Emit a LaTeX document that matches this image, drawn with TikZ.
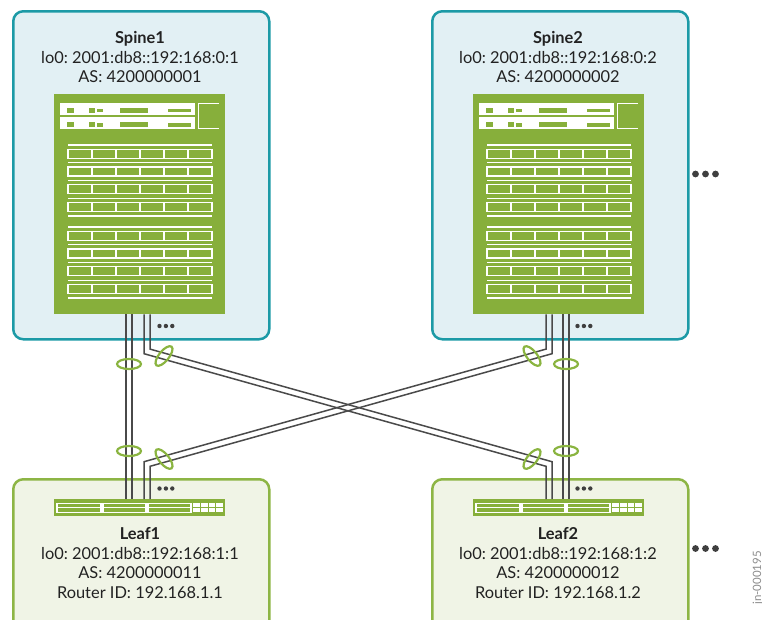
\documentclass[tikz,border=0pt]{standalone}
\usepackage{fontspec}
\setmainfont{Lato}
\usetikzlibrary{calc}
\definecolor{SpineTeal}{HTML}{1C9AA6}
\definecolor{SpineFill}{HTML}{E2F0F4}
\definecolor{LeafEdge}{HTML}{8DB545}
\definecolor{LeafFill}{HTML}{F0F4E6}
\definecolor{SwGreen}{HTML}{87AF3B}
\definecolor{LagGreen}{HTML}{8AB440}
\definecolor{LinkGrey}{HTML}{4A4A4A}
\definecolor{DotGrey}{HTML}{3F3F3F}
\definecolor{TextDark}{HTML}{222222}
\definecolor{IdGrey}{HTML}{8C8C8C}
\frenchspacing

\begin{document}
\begin{tikzpicture}[x=1pt, y=-1pt,
  spinebox/.style={draw=SpineTeal, fill=SpineFill, line width=2.5pt, rounded corners=10pt, anchor=north west, minimum width=256pt, minimum height=328pt, inner sep=0pt},
  leafbox/.style={draw=LeafEdge, fill=LeafFill, line width=2.5pt, rounded corners=10pt, anchor=north west, minimum width=256pt, minimum height=160pt, inner sep=0pt},
  chassis/.style={fill=SwGreen, anchor=north west, minimum width=171pt, inner sep=0pt},
  lbl/.style={align=center, text=TextDark, font=\fontsize{16.4}{19.8}\selectfont, inner sep=0pt},
  link/.style={draw=LinkGrey, line width=1.5pt},
  lag/.style={draw=LagGreen, line width=2.2pt},
  port/.style={draw=white, line width=1.2pt}
]
  \clip (0,0) rectangle (762,619);

  % rack boxes
  \node[spinebox] (spine1) at (12,10) {};
  \node[spinebox] (spine2) at (431,10) {};
  \node[leafbox] (leaf1) at (12,478) {};
  \node[leafbox] (leaf2) at (431,478) {};

  % switches
  \node[chassis, minimum height=220pt] (sp1sw) at (54,94) {};
  \node[chassis, minimum height=220pt] (sp2sw) at (473,94) {};
  \node[chassis, minimum height=17pt] (lf1sw) at (54,499) {};
  \node[chassis, minimum height=17pt] (lf2sw) at (473,499) {};

  % straight uplinks
  \foreach \dx in {72,78}
    \draw[link] ($(sp1sw.south west)+(\dx,0)$) -- ($(lf1sw.north west)+(\dx,0)$);
  \foreach \dx in {90,96}
    \draw[link] ($(sp2sw.south west)+(\dx,0)$) -- ($(lf2sw.north west)+(\dx,0)$);

  % crossed uplinks
  \draw[link] ($(sp1sw.south west)+(90,0)$) -- ++(0,39.3) -- ($(lf2sw.north west)+(73,-32.7)$) -- ($(lf2sw.north west)+(73,0)$);
  \draw[link] ($(sp1sw.south west)+(96,0)$) -- ++(0,34.7) -- ($(lf2sw.north west)+(79,-37.3)$) -- ($(lf2sw.north west)+(79,0)$);
  \draw[link] ($(sp2sw.south west)+(73,0)$) -- ++(0,34.7) -- ($(lf1sw.north west)+(90,-37.3)$) -- ($(lf1sw.north west)+(90,0)$);
  \draw[link] ($(sp2sw.south west)+(79,0)$) -- ++(0,39.3) -- ($(lf1sw.north west)+(96,-32.7)$) -- ($(lf1sw.north west)+(96,0)$);

  % LAG rings
  \foreach \x/\y in {129/364, 129/451, 566/364, 566/451}
    \draw[lag] (\x,\y) ellipse [x radius=12, y radius=5];
  \foreach \x/\y/\a in {164/356/51, 164/459/-51, 532/356/-51, 532/459/51}
    \draw[lag, rotate around={\a:(\x,\y)}] (\x,\y) ellipse [x radius=12, y radius=5];

  % spine faceplate
  \foreach \sw in {sp1sw,sp2sw} {
    \begin{scope}[shift={(\sw.north west)}]
      \foreach \y in {9,23.3} {
        \fill[white] (5.7,\y) rectangle (141,\y+11.7);
        \fill[SwGreen] (12.7,\y+5) rectangle (20,\y+10);
        \fill[SwGreen] (34.7,\y+5) rectangle (41.3,\y+10);
        \fill[SwGreen] (43.3,\y+5.8) rectangle (49.3,\y+9.2);
        \fill[SwGreen] (66,\y+5) rectangle (94.3,\y+10);
        \fill[SwGreen] (114.3,\y+5.8) rectangle (136.7,\y+9.2);
      }
      \draw[port] (165,9.6) -| (144.6,34.4) -- (165,34.4);
      \foreach \g in {51,133} {
        \foreach \i in {0,...,3} {
          \draw[port, line width=1.1pt] (14,\g+17.75*\i) -- (158,\g+17.75*\i);
          \draw[port] (14,\g+17.75*\i+4.3) rectangle (158,\g+17.75*\i+13.3);
          \foreach \c in {1,...,5}
            \draw[port] (14+24*\c,\g+17.75*\i+4.3) -- ++(0,9);
        }
        \draw[port, line width=1.1pt] (14,\g+71) -- (158,\g+71);
      }
    \end{scope}
  }

  % leaf faceplate
  \foreach \sw in {lf1sw,lf2sw} {
    \begin{scope}[shift={(\sw.north west)}]
      \foreach \x/\w in {3/44, 49/43, 94/43} {
        \draw[port, line width=1.1pt] (\x,4.2) rectangle ++(\w,9);
        \draw[port, line width=1.1pt] (\x,8.7) -- ++(\w,0);
      }
      \fill[white] (139,3.7) rectangle (169,13.3);
      \draw[SwGreen, line width=0.9pt] (139,8.5) -- (169,8.5);
      \foreach \c in {1,2,3}
        \draw[SwGreen, line width=0.9pt] (139+7.5*\c,3.7) -- ++(0,9.6);
    \end{scope}
  }

  % more ports / more devices
  \foreach \x/\y in {159.5/326, 577.5/326, 159.5/488.5, 577.5/488.5}
    \foreach \k in {0,1,2}
      \fill[DotGrey] (\x+6.4*\k,\y) circle (2.2);
  \foreach \y in {174,548.5}
    \foreach \k in {0,1,2}
      \fill[DotGrey] (695.5+10*\k,\y) circle (3.4);

  % labels
  \node[lbl] (sp1lbl) at (140,57) {\textbf{Spine1}\\lo0: 2001:db8::192:168:0:1\\AS: 4200000001};
  \node[lbl] (sp2lbl) at (558,57) {\textbf{Spine2}\\lo0: 2001:db8::192:168:0:2\\AS: 4200000002};
  \node[lbl] (lf1lbl) at (140,563) {\textbf{Leaf1}\\lo0: 2001:db8::192:168:1:1\\AS: 4200000011\\Router ID: 192.168.1.1};
  \node[lbl] (lf2lbl) at (558,563) {\textbf{Leaf2}\\lo0: 2001:db8::192:168:1:2\\AS: 4200000012\\Router ID: 192.168.1.2};

  \node[rotate=90, anchor=base, text=IdGrey, font=\fontsize{11.5}{13}\selectfont, inner sep=0pt] (figid) at (761,578) {jn-000195};
\end{tikzpicture}
\end{document}
